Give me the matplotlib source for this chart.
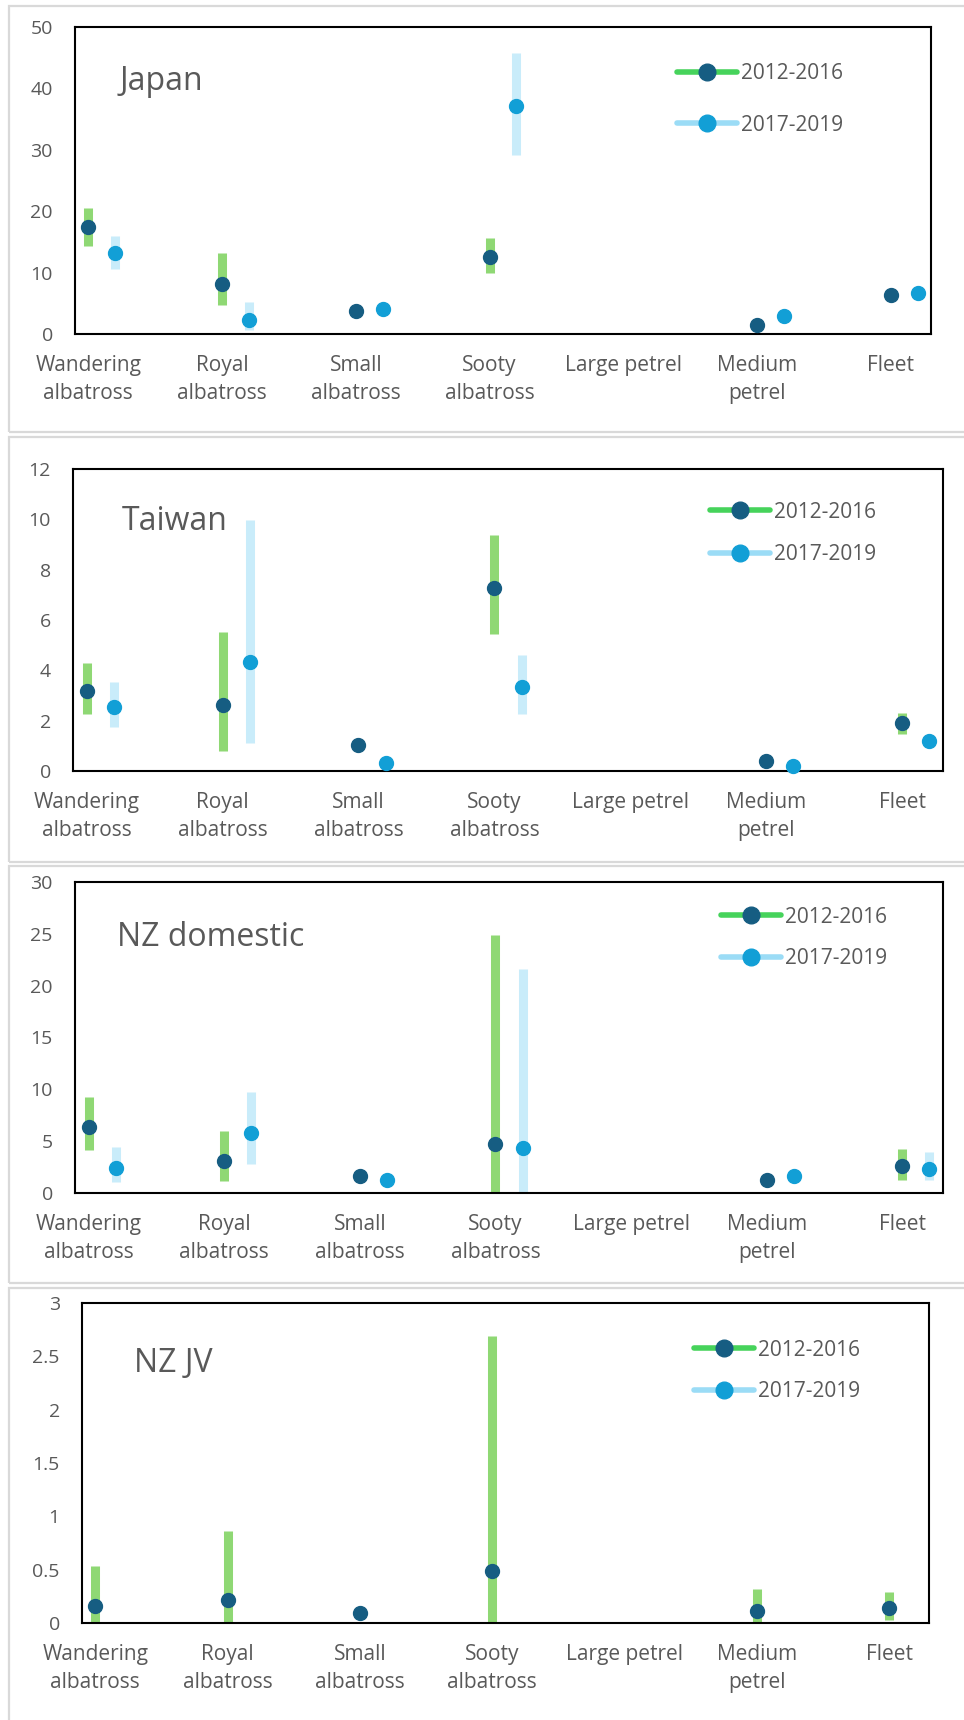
import numpy as np
import matplotlib
matplotlib.use('Agg')
import matplotlib.pyplot as plt
from matplotlib.lines import Line2D
from matplotlib.patches import Rectangle
from matplotlib.ticker import FuncFormatter

plt.rcParams['font.family'] = ['Open Sans', 'DejaVu Sans']

nan = np.nan

# --- data ---
categories = ['Wandering\nalbatross', 'Royal\nalbatross', 'Small\nalbatross',
              'Sooty\nalbatross', 'Large petrel', 'Medium\npetrel', 'Fleet']
series_labels = ['2012-2016', '2017-2019']

japan_a = [17.5, 8.2, 3.7, 12.6, nan, 1.5, 6.3]
japan_a_lo = [14.3, 4.8, nan, 9.9, nan, nan, nan]
japan_a_hi = [20.5, 13.2, nan, 15.6, nan, nan, nan]
japan_b = [13.2, 2.3, 4.1, 37.1, nan, 3.0, 6.7]
japan_b_lo = [10.6, 0.7, nan, 29.1, nan, nan, nan]
japan_b_hi = [16.0, 5.2, nan, 45.7, nan, nan, nan]

taiwan_a = [3.17, 2.62, 1.02, 7.27, nan, 0.39, 1.9]
taiwan_a_lo = [2.27, 0.81, nan, 5.44, nan, nan, 1.48]
taiwan_a_hi = [4.29, 5.53, nan, 9.38, nan, nan, 2.32]
taiwan_b = [2.54, 4.33, 0.33, 3.32, nan, 0.2, 1.18]
taiwan_b_lo = [1.74, 1.11, nan, 2.27, nan, nan, nan]
taiwan_b_hi = [3.54, 9.97, nan, 4.59, nan, nan, nan]

nzdom_a = [6.4, 3.06, 1.67, 4.73, nan, 1.26, 2.57]
nzdom_a_lo = [4.1, 1.13, nan, 0.0, nan, nan, 1.29]
nzdom_a_hi = [9.25, 6.0, nan, 24.85, nan, nan, 4.25]
nzdom_b = [2.45, 5.76, 1.26, 4.38, nan, 1.67, 2.32]
nzdom_b_lo = [1.03, 2.8, nan, 0.0, nan, nan, 1.29]
nzdom_b_hi = [4.47, 9.78, nan, 21.6, nan, nan, 3.93]

nzjv_a = [0.156, 0.216, 0.09, 0.49, nan, 0.116, 0.14]
nzjv_a_lo = [0.0, 0.0, nan, 0.0, nan, 0.01, 0.03]
nzjv_a_hi = [0.53, 0.86, nan, 2.69, nan, 0.32, 0.29]
nzjv_b = [nan] * 7
nzjv_b_lo = [nan] * 7
nzjv_b_hi = [nan] * 7

# --- styling ---
W, H = 964, 1720
GREY = '#595959'
DARK = '#165d82'
LIGHT = '#129fd6'
GREEN_BAR = '#8fd874'
BLUE_BAR = '#c9ecfa'
GREEN_LEG = '#46d35b'
BLUE_LEG = '#9bdcf6'


def fx(px):
    return px / W


def fy(py):
    return 1 - py / H


fig = plt.figure(figsize=(W / 100, H / 100), dpi=100)
fig.patch.set_facecolor('white')

# grey frames around each panel
for top, bottom in [(6, 432), (437, 862), (866, 1283), (1288, 1740)]:
    fig.add_artist(Rectangle((fx(9), fy(bottom)), fx(1000), (bottom - top) / H,
                             transform=fig.transFigure, fill=False,
                             edgecolor='#d9d9d9', lw=1.6, clip_on=False))

panels = [
    dict(name='Japan', box=(75, 27, 931, 334), ymax=50, step=10,
         title_xy=(120, 90), leg_xy=(677, 99.5), leg_sp=1.45,
         a=(japan_a, japan_a_lo, japan_a_hi), b=(japan_b, japan_b_lo, japan_b_hi)),
    dict(name='Taiwan', box=(73, 469, 943, 771), ymax=12, step=2,
         title_xy=(122, 530), leg_xy=(710, 533.5), leg_sp=1.05,
         a=(taiwan_a, taiwan_a_lo, taiwan_a_hi), b=(taiwan_b, taiwan_b_lo, taiwan_b_hi)),
    dict(name='NZ domestic', box=(75, 882, 943, 1193), ymax=30, step=5,
         title_xy=(117, 946), leg_xy=(721, 938), leg_sp=1.0,
         a=(nzdom_a, nzdom_a_lo, nzdom_a_hi), b=(nzdom_b, nzdom_b_lo, nzdom_b_hi)),
    dict(name='NZ JV', box=(82, 1303, 929, 1623), ymax=3, step=0.5,
         title_xy=(134, 1372), leg_xy=(694, 1371), leg_sp=1.0,
         a=(nzjv_a, nzjv_a_lo, nzjv_a_hi), b=(nzjv_b, nzjv_b_lo, nzjv_b_hi)),
]

x = np.arange(1, len(categories) + 1)
offset = 0.2

for p in panels:
    l, t, r, b = p['box']
    ax = fig.add_axes([fx(l), fy(b), (r - l) / W, (b - t) / H])

    for (vals, lo, hi), xs, bar_c, mk_c in [(p['a'], x, GREEN_BAR, DARK),
                                            (p['b'], x + offset, BLUE_BAR, LIGHT)]:
        ax.vlines(xs, lo, hi, colors=bar_c, lw=6.5, capstyle='butt', zorder=2)
        ax.plot(xs, vals, 'o', ms=10, color=mk_c, mec=mk_c, zorder=3, clip_on=False)

    ax.set_xlim(0.9, 7.3)
    ax.set_ylim(0, p['ymax'])
    ax.set_yticks(np.arange(0, p['ymax'] + p['step'] / 2, p['step']))
    ax.yaxis.set_major_formatter(FuncFormatter(lambda v, pos: f'{v:g}'))
    ax.set_xticks(x)
    ax.set_xticklabels(categories, fontsize=15, color=GREY, linespacing=1.45)
    ax.tick_params(axis='y', length=0, pad=16, labelsize=14, labelcolor=GREY)
    ax.tick_params(axis='x', length=0, pad=15)
    for s in ax.spines.values():
        s.set_color('black')
        s.set_linewidth(1.5)

    fig.text(fx(p['title_xy'][0]), fy(p['title_xy'][1]), p['name'],
             fontsize=23, color=GREY, va='baseline', ha='left')

    handles = [Line2D([], [], color=GREEN_LEG, lw=4, marker='o', ms=12,
                      mfc=DARK, mec=DARK, solid_capstyle='round'),
               Line2D([], [], color=BLUE_LEG, lw=4, marker='o', ms=12,
                      mfc=LIGHT, mec=LIGHT, solid_capstyle='round')]
    ax.legend(handles, series_labels, loc='center left',
              bbox_to_anchor=(fx(p['leg_xy'][0]), fy(p['leg_xy'][1])),
              bbox_transform=fig.transFigure, frameon=False, fontsize=15,
              labelcolor=GREY, handlelength=2.9, handletextpad=0.15,
              labelspacing=p['leg_sp'], borderpad=0, borderaxespad=0,
              numpoints=1)

fig.savefig('out.png', dpi=100, facecolor='white')
